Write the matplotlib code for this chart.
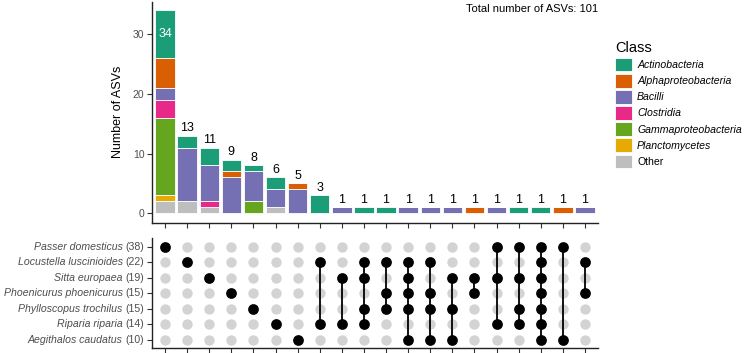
import matplotlib
matplotlib.use("Agg")
import matplotlib.pyplot as plt
from matplotlib.patches import Patch
import numpy as np

plt.rcParams['font.family'] = ['Liberation Sans', 'DejaVu Sans']

# intersection sizes split by class (one value per intersection column)
classes = ['Actinobacteria', 'Alphaproteobacteria', 'Bacilli', 'Clostridia',
           'Gammaproteobacteria', 'Planctomycetes', 'Other']
colors = ['#1B9E77', '#D95F02', '#7570B3', '#E7298A', '#66A61E', '#E6AB02', '#BEBEBE']

actinobacteria = [8, 2, 3, 2, 1, 2, 0, 3, 0, 1, 1, 0, 0, 0, 0, 0, 1, 1, 0, 0]
alphaproteobacteria = [5, 0, 0, 1, 0, 0, 1, 0, 0, 0, 0, 0, 0, 0, 1, 0, 0, 0, 1, 0]
bacilli = [2, 9, 6, 6, 5, 3, 4, 0, 1, 0, 0, 1, 1, 1, 0, 1, 0, 0, 0, 1]
clostridia = [3, 0, 1, 0, 0, 0, 0, 0, 0, 0, 0, 0, 0, 0, 0, 0, 0, 0, 0, 0]
gammaproteobacteria = [13, 0, 0, 0, 2, 0, 0, 0, 0, 0, 0, 0, 0, 0, 0, 0, 0, 0, 0, 0]
planctomycetes = [1, 0, 0, 0, 0, 0, 0, 0, 0, 0, 0, 0, 0, 0, 0, 0, 0, 0, 0, 0]
other = [2, 2, 1, 0, 0, 1, 0, 0, 0, 0, 0, 0, 0, 0, 0, 0, 0, 0, 0, 0]

species = ['Passer domesticus', 'Locustella luscinioides', 'Sitta europaea',
           'Phoenicurus phoenicurus', 'Phylloscopus trochilus', 'Riparia riparia',
           'Aegithalos caudatus']
set_sizes = [38, 22, 19, 15, 15, 14, 10]

# which species (row index) take part in each intersection column
members = [[0], [1], [2], [3], [4], [5], [6], [1, 5], [2, 5], [1, 2, 4, 5],
           [1, 3, 4], [1, 2, 3, 4, 6], [1, 3, 4, 6], [2, 4, 6], [2, 3],
           [0, 2, 5], [0, 2, 4, 5], [0, 1, 2, 3, 4, 5, 6], [0, 6], [1, 3]]

values = {
    'Actinobacteria': actinobacteria,
    'Alphaproteobacteria': alphaproteobacteria,
    'Bacilli': bacilli,
    'Clostridia': clostridia,
    'Gammaproteobacteria': gammaproteobacteria,
    'Planctomycetes': planctomycetes,
    'Other': other,
}

W, H = 747, 353
fig = plt.figure(figsize=(W / 100, H / 100), dpi=100)
ax = fig.add_axes([152 / W, 1 - 222.7 / H, (598 - 152) / W, (222.7 - 1.7) / H])
axm = fig.add_axes([152 / W, 1 - 348.3 / H, (598 - 152) / W, (348.3 - 238) / H])

n = len(members)
x = np.arange(1, n + 1)
totals = np.zeros(n)
# stack bottom to top: reverse of legend order
for cls, col in list(zip(classes, colors))[::-1]:
    v = np.array(values[cls], dtype=float)
    ax.bar(x, v, bottom=totals, width=0.88, color=col, edgecolor='white', linewidth=0.6)
    totals += v

for xi, t in zip(x, totals):
    if t >= 30:
        ax.text(xi, 30, f"{int(t)}", ha='center', va='center', color='white', fontsize=9)
    else:
        ax.text(xi, t + 0.2, f"{int(t)}", ha='center', va='bottom', color='black', fontsize=9)

ax.set_xlim(0.41, n + 0.59)
ax.set_ylim(-1.57, 35.4)
ax.set_yticks([0, 10, 20, 30])
ax.set_xticks(x)
ax.set_xticklabels([])
ax.set_ylabel('Number of ASVs', fontsize=9, color='black', labelpad=6)
for s in ['top', 'right']:
    ax.spines[s].set_visible(False)
for s in ['left', 'bottom']:
    ax.spines[s].set_linewidth(1.0)
    ax.spines[s].set_color('#222222')
ax.tick_params(axis='both', length=3.5, width=0.8, color='#333333', labelsize=7.5,
               labelcolor='#4D4D4D', pad=2)
ax.text(1.0, 0.99, 'Total number of ASVs: 101', transform=ax.transAxes,
        ha='right', va='top', fontsize=8)

# matrix of dots
nr = len(species)
for xi, rows in zip(x, members):
    for r in range(nr):
        if r not in rows:
            axm.scatter(xi, r, s=56, color='#D3D3D3', zorder=2, linewidths=0)
    if len(rows) > 1:
        axm.plot([xi, xi], [min(rows), max(rows)], color='black', lw=1.3, zorder=3)
    axm.scatter([xi] * len(rows), rows, s=60, color='black', zorder=4, linewidths=0)

axm.set_xlim(0.41, n + 0.59)
axm.set_ylim(nr - 0.45, -0.55)
axm.set_xticks(x)
axm.set_xticklabels([])
axm.set_yticks(range(nr))
axm.set_yticklabels([])
for s in ['top', 'right']:
    axm.spines[s].set_visible(False)
for s in ['left', 'bottom']:
    axm.spines[s].set_linewidth(1.0)
    axm.spines[s].set_color('#222222')
axm.tick_params(axis='both', length=3.5, width=0.8, color='#333333')

for r, (name, size) in enumerate(zip(species, set_sizes)):
    t = axm.annotate(f"({size})", xy=(0, r), xycoords=('axes fraction', 'data'),
                     xytext=(-5.5, 0), textcoords='offset points',
                     ha='right', va='center', fontsize=7.6, color='#4D4D4D')
    axm.annotate(name, xy=(0, 0.5), xycoords=t, xytext=(-2.2, 0),
                 textcoords='offset points', ha='right', va='center',
                 fontsize=7.6, color='#4D4D4D', style='italic')

handles = [Patch(facecolor=c, edgecolor='white', linewidth=0.6) for c in colors]
leg = fig.legend(handles, classes, loc='upper left', bbox_to_anchor=(608 / W, 1 - 34 / H),
                 frameon=False, title='Class', title_fontsize=10.5, fontsize=7.6,
                 handlelength=1.55, handleheight=1.6, labelspacing=0.24,
                 handletextpad=0.5, alignment='left', borderpad=0.2)
for txt in leg.get_texts()[:-1]:
    txt.set_fontstyle('italic')

fig.savefig('out.png', dpi=100)
